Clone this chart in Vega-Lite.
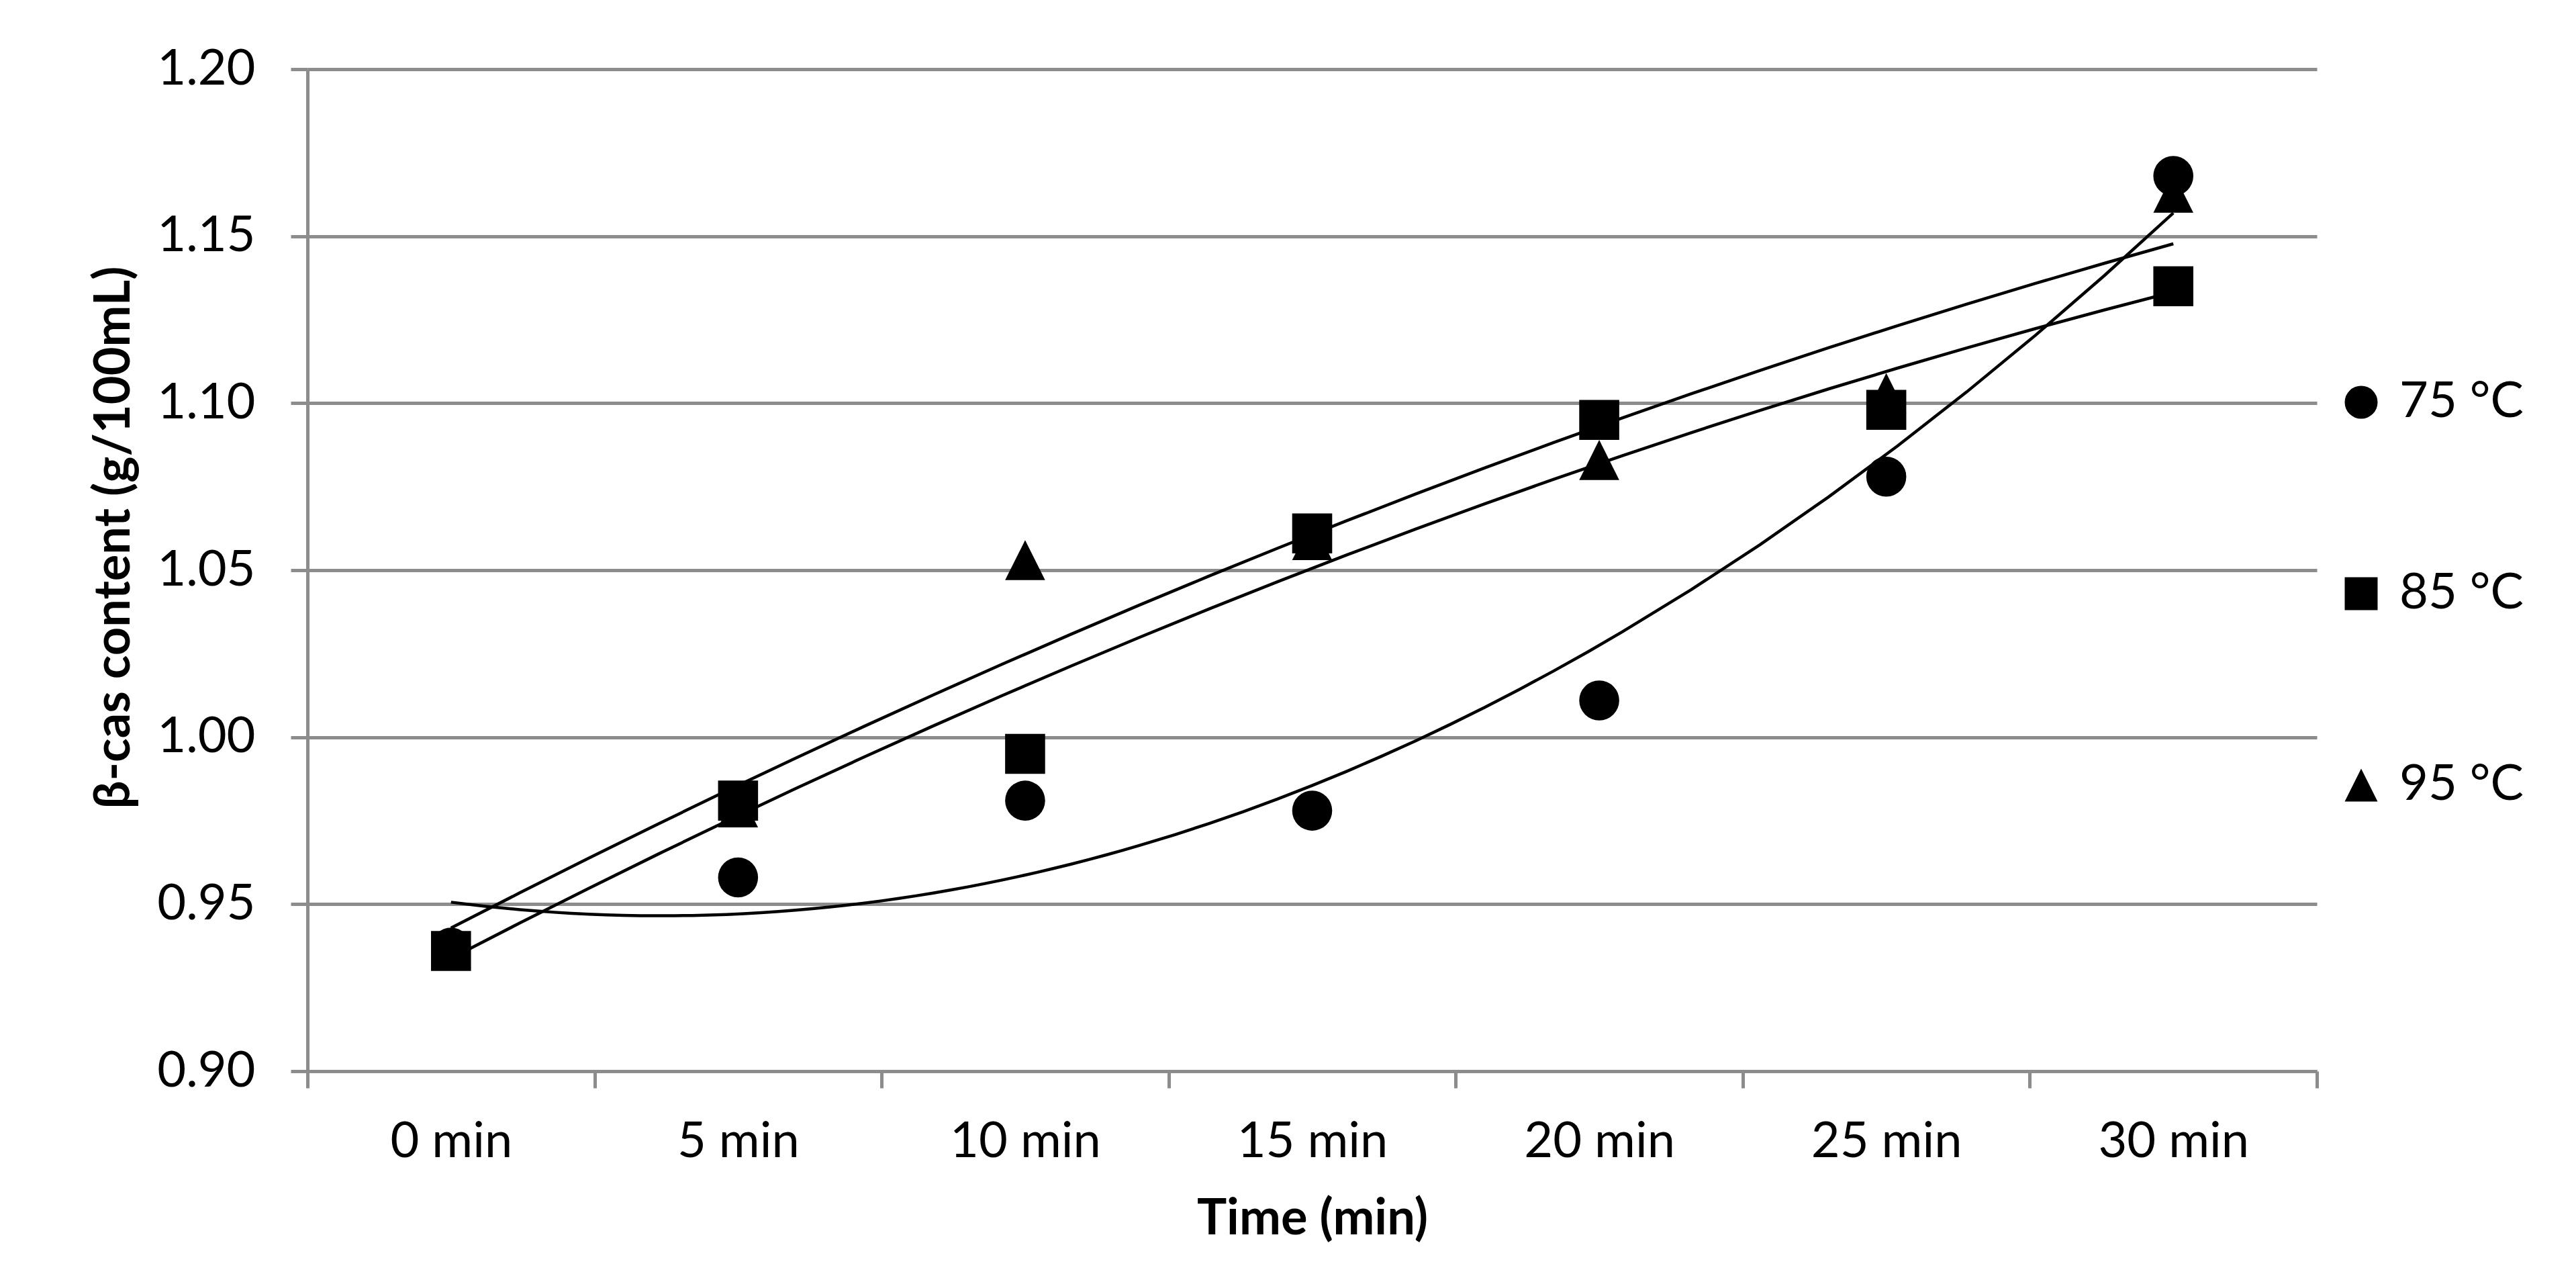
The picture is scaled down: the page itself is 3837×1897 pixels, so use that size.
{
  "$schema": "https://vega.github.io/schema/vega-lite/v6.json",
  "autosize": {"type": "none"},
  "padding": {"left": 458, "top": 103, "right": 386, "bottom": 302},
  "width": 2993,
  "height": 1492,
  "background": "white",
  "config": {
    "view": {"stroke": null},
    "font": "Lato"
  },
  "data": {
    "values": [
      {"temp": "75 °C", "t": 0, "v": 0.937},
      {"temp": "75 °C", "t": 5, "v": 0.958},
      {"temp": "75 °C", "t": 10, "v": 0.981},
      {"temp": "75 °C", "t": 15, "v": 0.978},
      {"temp": "75 °C", "t": 20, "v": 1.011},
      {"temp": "75 °C", "t": 25, "v": 1.078},
      {"temp": "75 °C", "t": 30, "v": 1.168},
      {"temp": "85 °C", "t": 0, "v": 0.936},
      {"temp": "85 °C", "t": 5, "v": 0.981},
      {"temp": "85 °C", "t": 10, "v": 0.995},
      {"temp": "85 °C", "t": 15, "v": 1.061},
      {"temp": "85 °C", "t": 20, "v": 1.095},
      {"temp": "85 °C", "t": 25, "v": 1.098},
      {"temp": "85 °C", "t": 30, "v": 1.135},
      {"temp": "95 °C", "t": 0, "v": 0.937},
      {"temp": "95 °C", "t": 5, "v": 0.979},
      {"temp": "95 °C", "t": 10, "v": 1.053},
      {"temp": "95 °C", "t": 15, "v": 1.059},
      {"temp": "95 °C", "t": 20, "v": 1.083},
      {"temp": "95 °C", "t": 25, "v": 1.103},
      {"temp": "95 °C", "t": 30, "v": 1.163}
    ]
  },
  "encoding": {
    "x": {
      "field": "t",
      "type": "quantitative",
      "scale": {"domain": [-2.5, 32.5], "nice": false, "zero": false},
      "axis": {
        "values": [-2.5, 2.5, 7.5, 12.5, 17.5, 22.5, 27.5, 32.5],
        "labelExpr": "datum.value < 30 ? format(datum.value + 2.5, 'd') + ' min' : ''",
        "labelOffset": 213.8,
        "grid": false,
        "tickSize": 25,
        "tickWidth": 5,
        "tickColor": "#8c8c8c",
        "domainColor": "#8c8c8c",
        "domainWidth": 5,
        "labelFontSize": 74,
        "labelColor": "black",
        "labelPadding": 44,
        "labelLimit": 0,
        "labelOverlap": false,
        "labelFlush": false,
        "labelBound": false,
        "title": "Time (min)",
        "titleFontSize": 74,
        "titleFontWeight": "bold",
        "titleColor": "black",
        "titlePadding": 42
      }
    },
    "y": {
      "field": "v",
      "type": "quantitative",
      "scale": {"domain": [0.9, 1.2], "nice": false, "zero": false},
      "axis": {
        "values": [0.9, 0.95, 1.0, 1.05, 1.1, 1.15, 1.2],
        "format": ".2f",
        "grid": true,
        "gridColor": "#8c8c8c",
        "gridWidth": 5,
        "tickSize": 25,
        "tickWidth": 5,
        "tickColor": "#8c8c8c",
        "domainColor": "#8c8c8c",
        "domainWidth": 5,
        "labelFontSize": 74,
        "labelColor": "black",
        "labelPadding": 53,
        "title": "β-cas content (g/100mL)",
        "titleFontSize": 74,
        "titleFontWeight": "bold",
        "titleColor": "black",
        "titlePadding": 50,
        "titleY": 697
      }
    }
  },
  "layer": [
    {
      "transform": [
        {"regression": "v", "on": "t", "groupby": ["temp"], "method": "poly", "order": 2}
      ],
      "mark": {"type": "line", "color": "black", "strokeWidth": 4.5},
      "encoding": {"detail": {"field": "temp", "type": "nominal"}}
    },
    {
      "mark": {"type": "point", "filled": true, "color": "black", "opacity": 1, "size": 3550},
      "encoding": {
        "shape": {
          "field": "temp",
          "type": "nominal",
          "scale": {
            "domain": ["75 °C", "85 °C", "95 °C"],
            "range": ["circle", "square", "M0,-1L1,1L-1,1Z"]
          },
          "legend": {
            "title": null,
            "orient": "none",
            "legendX": 3022,
            "legendY": 459,
            "padding": 0,
            "labelFontSize": 74,
            "labelColor": "black",
            "labelOffset": 20,
            "labelLimit": 0,
            "symbolSize": 2400,
            "symbolFillColor": "black",
            "symbolStrokeWidth": 0,
            "rowPadding": 211
          }
        }
      }
    }
  ]
}
